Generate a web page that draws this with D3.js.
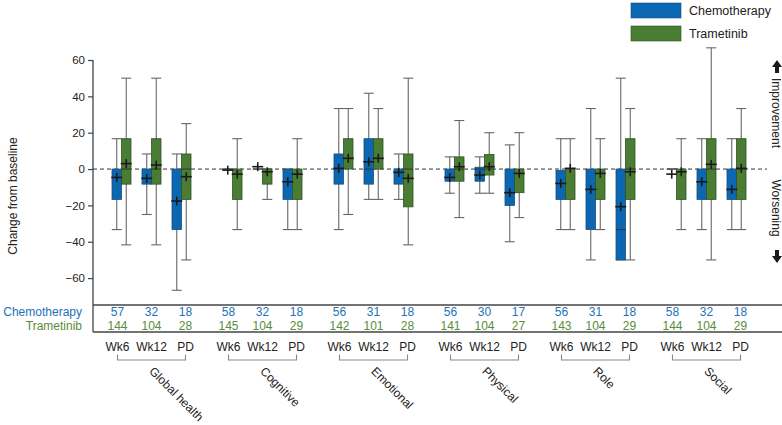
<!DOCTYPE html>
<html>
<head>
<meta charset="utf-8">
<script src="https://cdn.jsdelivr.net/npm/d3@7"></script>
<style>
  html, body { margin: 0; padding: 0; background: #fff; }
  svg { display: block; font-family: "Liberation Sans", Arial, Helvetica, sans-serif; }
</style>
</head>
<body>
<svg id="chart" width="782" height="425"></svg>
<script>
// ---------------- data ----------------
const domains = ["Global health", "Cognitive", "Emotional", "Physical", "Role", "Social"];
const timepoints = ["Wk6", "Wk12", "PD"];
const seriesNames = ["Chemotherapy", "Trametinib"];
const yTicks = [-60, -40, -20, 0, 20, 40, 60];

// patient numbers (order: domain x timepoint)
const nChemo = [57, 32, 18, 58, 32, 18, 56, 31, 18, 56, 30, 17, 56, 31, 18, 58, 32, 18];
const nTram  = [144, 104, 28, 145, 104, 29, 142, 101, 28, 141, 104, 27, 143, 104, 29, 144, 104, 29];

// Chemotherapy box statistics
const chemoMin  = [-33.3, -25, -66.7,   0,   0, -33.3, -33.3, -16.7, -16.7, -13.3, -13.3, -40, -33.3, -50, -50,  0, -33.3, -33.3];
const chemoQ1   = [-16.7, -8.3, -33.3,  0,   0, -16.7,  -8.3,  -8.3,  -8.3,  -6.7,  -6.7, -20, -16.7, -33.3, -50, 0, -16.7, -16.7];
const chemoMed  = [0, 0, 0, 0, 0, 0, 0, 0, 0, 0, 0, 0, -0.8, 0, -33.3, 0, 0, 0];
const chemoQ3   = [0, 0, 0, 0, 0, 0, 8.3, 16.7, 0, 0, 1, 0, -0.8, 0, 0, 0, 0, 0];
const chemoMax  = [16.7, 8.3, 8.3, 0, 0, 0, 33.3, 41.7, 8.3, 6.7, 6.7, 13.3, 16.7, 33.3, 50, 0, 16.7, 16.7];
const chemoMean = [-4.6, -5.1, -17.6, -0.6, 1.3, -7, 0.4, 4, -1.8, -4.6, -3.3, -13, -7.9, -11.2, -20.7, -2.8, -7, -11.2];

// Trametinib box statistics
const tramMin  = [-41.7, -41.7, -50, -33.3, -16.7, -33.3, -25, -16.7, -41.7, -26.7, -13.3, -26.7, -33.3, -33.3, -50, -33.3, -50, -33.3];
const tramQ1   = [-8.3, -8.3, -16.7, -16.7, -8.3, -16.7, 0, 0, -20.8, -6.7, -3.3, -13, -16.7, -16.7, -16.7, -16.7, -16.7, -16.7];
const tramMed  = [0, 0, 0, 0, 0, 0, 0, 0, 0, 0, 0, 0, 0, 0, 0, 0, 0, 0];
const tramQ3   = [16.7, 16.7, 8.3, 0, 0, 0, 16.7, 16.7, 8.3, 6.7, 8, 0, 0, 0, 16.7, 0, 16.7, 16.7];
const tramMax  = [50, 50, 25, 16.7, 0, 16.7, 33.3, 33.3, 50, 26.7, 20, 20, 16.7, 16.7, 33.3, 16.7, 66.7, 33.3];
const tramMean = [3, 2.2, -4.2, -2.8, -1.5, -2.8, 5.9, 5.9, -5.1, 1.3, 1.3, -2.4, 0.4, -2.4, -1.5, -1.5, 2.6, 0.4];

// ---------------- styles ----------------
const fillColors = ["#0b67b2", "#4a7c34"];
const strokeColors = ["#1d4d7a", "#2e5424"];
const textColors = ["#2272b8", "#5a8c3a"];

// ---------------- build ----------------
const svg = d3.select("#chart");

const x = d3.scaleBand().domain(domains).range([96, 762]).paddingInner(0).paddingOuter(0);
const boxPos = d3.scalePoint().domain(timepoints).range([-30, 30]);
const labelPos = d3.scalePoint().domain(timepoints).range([-34, 34]);
const y = d3.scaleLinear().domain([-74.8, 60]).range([305, 60]);

const gc = d => x(d) + x.bandwidth() / 2;
const boxW = 9.5;

// records
const records = [];
domains.forEach((d, di) => {
  timepoints.forEach((t, ti) => {
    const i = di * 3 + ti;
    records.push({d, t, s: 0, min: chemoMin[i], q1: chemoQ1[i], med: chemoMed[i], q3: chemoQ3[i], max: chemoMax[i], mean: chemoMean[i]});
    records.push({d, t, s: 1, min: tramMin[i], q1: tramQ1[i], med: tramMed[i], q3: tramQ3[i], max: tramMax[i], mean: tramMean[i]});
  });
});
const cx = r => gc(r.d) + boxPos(r.t) + (r.s === 0 ? -boxW / 2 : boxW / 2);

// Y axis
const axisG = svg.append("g").attr("transform", "translate(93,0)")
  .call(d3.axisLeft(y).tickValues(yTicks).tickSize(5).tickPadding(3));
axisG.select(".domain").remove();
axisG.selectAll(".tick line").attr("stroke", "#444").attr("stroke-width", 1.2);
axisG.selectAll(".tick text").attr("fill", "#222").style("font-size", "11.5px");

// axis vertical line down to table bottom
svg.append("line").attr("x1", 93).attr("x2", 93).attr("y1", y(60)).attr("y2", 332)
  .attr("stroke", "#444").attr("stroke-width", 1.3);
// table lines
[305, 332].forEach(v => {
  svg.append("line").attr("x1", 93).attr("x2", 782).attr("y1", v).attr("y2", v)
    .attr("stroke", "#444").attr("stroke-width", 1.3);
});

// y title
svg.append("text").attr("transform", "translate(17,196) rotate(-90)")
  .attr("text-anchor", "middle").attr("fill", "#222").style("font-size", "12px")
  .text("Change from baseline");

// zero dashed line
svg.append("line").attr("x1", 93).attr("x2", 767).attr("y1", y(0)).attr("y2", y(0))
  .attr("stroke", "#333").attr("stroke-width", 1).attr("stroke-dasharray", "4,3");

// whiskers
const wg = svg.append("g");
records.forEach(r => {
  wg.append("line").attr("x1", cx(r)).attr("x2", cx(r)).attr("y1", y(r.max)).attr("y2", y(r.min))
    .attr("stroke", "#666").attr("stroke-width", 1.1);
  [r.min, r.max].forEach(v => {
    wg.append("line").attr("x1", cx(r) - 5).attr("x2", cx(r) + 5).attr("y1", y(v)).attr("y2", y(v))
      .attr("stroke", "#666").attr("stroke-width", 1.1);
  });
});

// boxes
const bg = svg.append("g");
records.forEach(r => {
  if (r.q3 - r.q1 > 0) {
    bg.append("rect").attr("x", cx(r) - boxW / 2).attr("width", boxW)
      .attr("y", y(r.q3)).attr("height", y(r.q1) - y(r.q3))
      .attr("fill", fillColors[r.s]).attr("stroke", strokeColors[r.s]).attr("stroke-width", 0.8);
    if (r.med > r.q1 && r.med < r.q3) {
      bg.append("line").attr("x1", cx(r) - boxW / 2).attr("x2", cx(r) + boxW / 2)
        .attr("y1", y(r.med)).attr("y2", y(r.med)).attr("stroke", "#333").attr("stroke-width", 1);
    }
  } else {
    bg.append("line").attr("x1", cx(r) - boxW / 2).attr("x2", cx(r) + boxW / 2)
      .attr("y1", y(r.q3)).attr("y2", y(r.q3)).attr("stroke", "#555").attr("stroke-width", 1);
  }
});

// mean crosses
const mg = svg.append("g");
records.forEach(r => {
  mg.append("line").attr("x1", cx(r) - 5.5).attr("x2", cx(r) + 5.5).attr("y1", y(r.mean)).attr("y2", y(r.mean))
    .attr("stroke", "#1a1a1a").attr("stroke-width", 1.6);
  mg.append("line").attr("x1", cx(r)).attr("x2", cx(r)).attr("y1", y(r.mean) - 4.5).attr("y2", y(r.mean) + 4.5)
    .attr("stroke", "#1a1a1a").attr("stroke-width", 1.6);
});

// table
svg.append("text").attr("x", 82).attr("y", 316).attr("text-anchor", "end")
  .attr("fill", textColors[0]).style("font-size", "12px").text(seriesNames[0]);
svg.append("text").attr("x", 82).attr("y", 330).attr("text-anchor", "end")
  .attr("fill", textColors[1]).style("font-size", "12px").text(seriesNames[1]);

domains.forEach((d, di) => {
  timepoints.forEach((t, ti) => {
    const i = di * 3 + ti;
    const lx = gc(d) + labelPos(t);
    svg.append("text").attr("x", lx).attr("y", 316).attr("text-anchor", "middle")
      .attr("fill", textColors[0]).style("font-size", "12px").text(nChemo[i]);
    svg.append("text").attr("x", lx).attr("y", 330).attr("text-anchor", "middle")
      .attr("fill", textColors[1]).style("font-size", "12px").text(nTram[i]);
    svg.append("text").attr("x", lx).attr("y", 351).attr("text-anchor", "middle")
      .attr("fill", "#222").style("font-size", "12px").text(t);
  });
  // bracket
  const x0 = gc(d) + labelPos(timepoints[0]);
  const x1 = gc(d) + labelPos(timepoints[timepoints.length - 1]);
  svg.append("path").attr("d", `M${x0},354.5V360H${x1}V354.5`)
    .attr("fill", "none").attr("stroke", "#888").attr("stroke-width", 1.1);
  // category label
  svg.append("text").attr("transform", `translate(${gc(d) - 3},372) rotate(45)`)
    .attr("fill", "#222").style("font-size", "12px").text(d);
});

// right annotations
svg.append("text").attr("transform", "translate(776,113) rotate(90)")
  .attr("text-anchor", "middle").attr("dy", "0.35em").attr("fill", "#222").style("font-size", "12px")
  .text("Improvement");
svg.append("text").attr("transform", "translate(776,208) rotate(90)")
  .attr("text-anchor", "middle").attr("dy", "0.35em").attr("fill", "#222").style("font-size", "12px")
  .text("Worsening");
// arrows
svg.append("path").attr("d", "M777,60 L782,67 L779,67 L779,73 L775,73 L775,67 L772,67 Z").attr("fill", "#1a1a1a");
svg.append("path").attr("d", "M777,263 L782,256 L779,256 L779,250 L775,250 L775,256 L772,256 Z").attr("fill", "#1a1a1a");

// legend
seriesNames.forEach((s, i) => {
  svg.append("rect").attr("x", 631).attr("y", 3 + i * 23).attr("width", 50).attr("height", 15)
    .attr("fill", fillColors[i]).attr("stroke", strokeColors[i]).attr("stroke-width", 0.6);
  svg.append("text").attr("x", 689).attr("y", 15 + i * 23).attr("fill", "#222")
    .style("font-size", "12.5px").text(s);
});
</script>
</body>
</html>
